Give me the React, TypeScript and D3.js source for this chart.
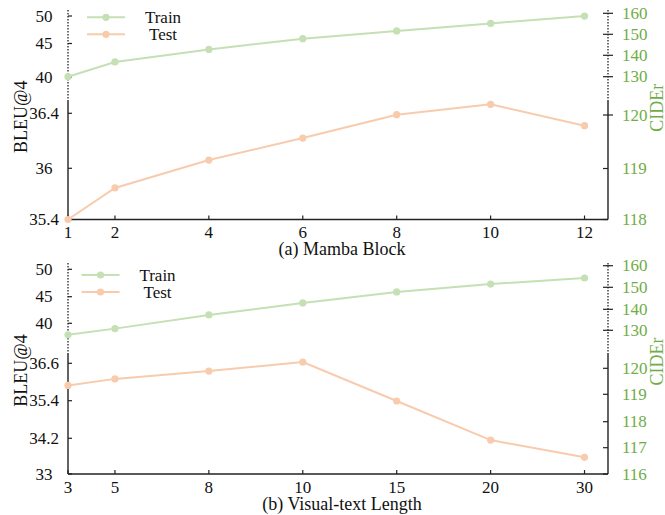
import * as d3 from 'd3'

// plotted x positions (both panels share them) and tick labels
const xPos = [1, 2, 4, 6, 8, 10, 12]
const labelsA = ['1', '2', '4', '6', '8', '10', '12']
const labelsB = ['3', '5', '8', '10', '15', '20', '30']

// panel (a) Mamba Block
const trainA = [130, 136.9, 142.8, 147.9, 151.6, 155.2, 158.7] // CIDEr
const testA = [35.4, 35.77, 36.06, 36.22, 36.39, 37.29, 36.31] // BLEU@4

// panel (b) Visual-text Length
const trainB = [128.8, 130.8, 137.3, 142.9, 147.9, 151.5, 154.3]
const testB = [35.89, 36.1, 36.35, 36.71, 35.39, 34.14, 33.56]

// broken-axis tick values
const leftTicksA = [35.4, 36, 36.4, 40, 45, 50]
const rightTicksA = [118, 119, 120, 130, 140, 150, 160]
const leftTicksB = [33, 34.2, 35.4, 36.6, 40, 45, 50]
const rightTicksB = [116, 117, 118, 119, 120, 130, 140, 150, 160]

const GREEN = '#c5e0b4'
const ORANGE = '#f8cbad'
const LABEL_GREEN = '#70ad47'
const AXIS = '#222'
const FONT = '"Liberation Serif", "Times New Roman", Times, serif'

function Panel(props) {
	const {
		top,
		bottom,
		breakY,
		leftTicks,
		leftRange,
		rightTicks,
		rightRange,
		labels,
		train,
		test,
		caption,
		legendX,
		legendY,
		crossMin,
	} = props

	const x = d3.scaleLinear().domain([1, 12.5]).range([68, 608])
	const yL = d3.scaleLinear().domain(leftTicks).range(leftRange)
	const yR = d3.scaleLinear().domain(rightTicks).range(rightRange)

	const lineR = d3
		.line()
		.x((d, i) => x(xPos[i]))
		.y((d) => yR(d))
	const lineL = d3
		.line()
		.x((d, i) => x(xPos[i]))
		.y((d) => yL(d))

	const x0 = x.range()[0]
	const x1 = x.range()[1]

	return (
		<g style={{ fontFamily: FONT }}>
			{/* axes: dotted above the break, solid below */}
			<line x1={x0} x2={x0} y1={top} y2={breakY} stroke={AXIS} strokeWidth={1.3} strokeDasharray="1.5 1.5" />
			<line x1={x0} x2={x0} y1={breakY} y2={bottom} stroke={AXIS} strokeWidth={1.4} />
			<line x1={x1} x2={x1} y1={top} y2={breakY} stroke={AXIS} strokeWidth={1.3} strokeDasharray="1.5 1.5" />
			<line x1={x1} x2={x1} y1={breakY} y2={bottom} stroke={AXIS} strokeWidth={1.4} />
			<line x1={x0} x2={x1} y1={bottom} y2={bottom} stroke={AXIS} strokeWidth={1.4} />

			{leftTicks.map((t) => (
				<g key={'l' + t}>
					<line x1={x0} x2={x0 + 4} y1={yL(t)} y2={yL(t)} stroke={AXIS} strokeWidth={1.2} />
					<text x={44} y={yL(t)} dy="0.34em" textAnchor="middle" fontSize={17} fill="#111">
						{t}
					</text>
				</g>
			))}
			{rightTicks.map((t) => (
				<g key={'r' + t}>
					<line
						x1={x1 - 5}
						x2={t >= crossMin ? x1 + 5 : x1}
						y1={yR(t)}
						y2={yR(t)}
						stroke={AXIS}
						strokeWidth={1.2}
					/>
					<text x={622} y={yR(t)} dy="0.34em" fontSize={17} fill={LABEL_GREEN}>
						{t}
					</text>
				</g>
			))}
			{xPos.map((p, i) => (
				<g key={'x' + p}>
					<line x1={x(p)} x2={x(p)} y1={bottom} y2={bottom - 4} stroke={AXIS} strokeWidth={1.2} />
					<text x={x(p)} y={bottom + 18.5} textAnchor="middle" fontSize={17} fill="#111">
						{labels[i]}
					</text>
				</g>
			))}

			<text
				transform={`translate(27,${(top + bottom) / 2 + 2}) rotate(-90)`}
				textAnchor="middle"
				fontSize={18}
				fill="#111"
			>
				BLEU@4
			</text>
			<text
				transform={`translate(663,${(top + bottom) / 2 - 7}) rotate(-90)`}
				textAnchor="middle"
				fontSize={18}
				fill={LABEL_GREEN}
			>
				CIDEr
			</text>
			<text x={342} y={bottom + 35.5} textAnchor="middle" fontSize={18} fill="#111">
				{caption}
			</text>

			<path d={lineR(train)} fill="none" stroke={GREEN} strokeWidth={2} />
			{train.map((d, i) => (
				<circle key={'tr' + i} cx={x(xPos[i])} cy={yR(d)} r={3.6} fill={GREEN} />
			))}
			<path d={lineL(test)} fill="none" stroke={ORANGE} strokeWidth={2} />
			{test.map((d, i) => (
				<circle key={'te' + i} cx={x(xPos[i])} cy={yL(d)} r={3.6} fill={ORANGE} />
			))}

			{[
				{ name: 'Train', color: GREEN },
				{ name: 'Test', color: ORANGE },
			].map((s, i) => (
				<g key={s.name} transform={`translate(${legendX},${legendY + i * 17})`}>
					<line x1={-19} x2={19} y1={0} y2={0} stroke={s.color} strokeWidth={2} />
					<circle cx={0} cy={0} r={3.6} fill={s.color} />
					<text x={57} y={0} dy="0.34em" textAnchor="middle" fontSize={17} fill="#111">
						{s.name}
					</text>
				</g>
			))}
		</g>
	)
}

export default function App() {
	return (
		<svg
			width={665}
			height={515}
			style={{ position: 'absolute', left: 0, top: 0, background: '#fff' }}
		>
			<Panel
				top={10}
				bottom={219.5}
				breakY={100}
				leftTicks={leftTicksA}
				leftRange={[219.5, 168.3, 113.3, 77, 43.5, 16]}
				rightTicks={rightTicksA}
				rightRange={[219.5, 168.5, 115, 76.7, 55.3, 34.3, 13.3]}
				labels={labelsA}
				train={trainA}
				test={testA}
				caption="(a) Mamba Block"
				legendX={106}
				legendY={17.3}
				crossMin={120}
			/>
			<Panel
				top={263}
				bottom={474}
				breakY={353}
				leftTicks={leftTicksB}
				leftRange={[474, 438.3, 400.7, 363.3, 323.3, 296.7, 269.3]}
				rightTicks={rightTicksB}
				rightRange={[474, 447.7, 421.7, 394.3, 368.3, 330.3, 309.3, 287.3, 265.7]}
				labels={labelsB}
				train={trainB}
				test={testB}
				caption="(b) Visual-text Length"
				legendX={100.5}
				legendY={275}
				crossMin={130}
			/>
		</svg>
	)
}
